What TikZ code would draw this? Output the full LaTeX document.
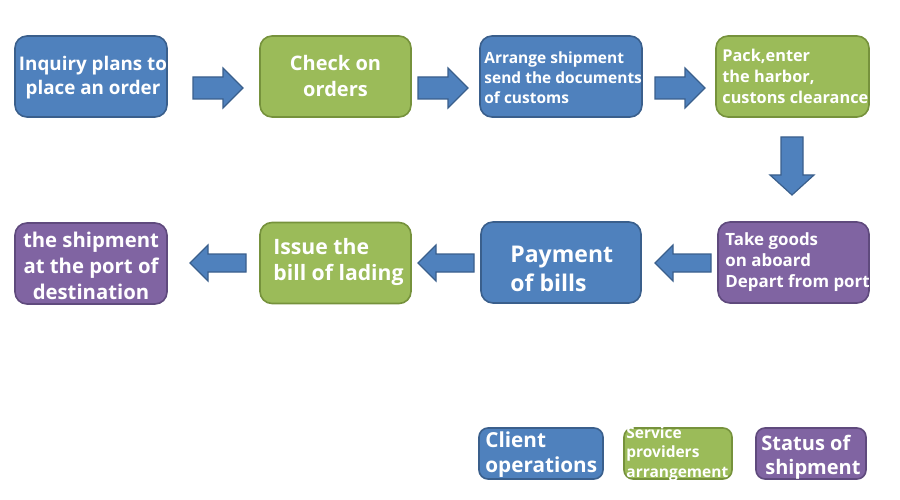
\documentclass[tikz,border=0pt]{standalone}
\usepackage{fontspec}
\setmainfont{Open Sans}
\definecolor{cblue}{HTML}{4F81BD}
\definecolor{cblueD}{HTML}{3A5F8C}
\definecolor{cgreen}{HTML}{9BBB59}
\definecolor{cgreenD}{HTML}{76923C}
\definecolor{cpurple}{HTML}{8064A2}
\definecolor{cpurpleD}{HTML}{5F4A7D}
\tikzset{
  box/.style={draw=#1D, fill=#1, line width=1.6pt, rounded corners=12pt,
    minimum width=152pt, minimum height=81pt, inner sep=0pt},
  txt/.style={text=white, inner sep=0pt, font=\bfseries},
  barrow/.style={draw=cblueD, fill=cblue, line width=1.2pt, line join=miter},
}
\newcommand{\fs}[2]{\fontsize{#1}{#2}\selectfont}
\begin{document}
\begin{tikzpicture}[x=1pt,y=-1pt]
\useasboundingbox (0,0) rectangle (900,500);
% row 1
\node[box=cblue] (b1) at (91,76.5) {};
\node[txt, align=center, font=\bfseries\fs{18.8}{24}] (t1) at ([xshift=2pt,yshift=-1pt]b1.center) {Inquiry plans to\\place an order};
\node[box=cgreen, minimum width=151pt] (b2) at (335.5,76.5) {};
\node[txt, align=center, font=\bfseries\fs{20}{26}] (t2) at (b2.center) {Check on\\orders};
\node[box=cblue, minimum width=162pt] (b3) at (561,76.5) {};
\node[txt, align=left, anchor=west, font=\bfseries\fs{15.5}{20}] (t3) at ([xshift=5pt,yshift=-1pt]b3.west) {Arrange shipment\\send the documents\\of customs};
\node[box=cgreen, minimum width=153pt] (b4) at (792.5,76.5) {};
\node[txt, align=left, anchor=west, font=\bfseries\fs{16.3}{21}] (t4) at ([xshift=7pt,yshift=0pt]b4.west) {Pack,enter\\the harbor,\\custons clearance};
% row 2
\node[box=cpurple] (b5) at (91,263.5) {};
\node[txt, align=center, font=\bfseries\fs{20.3}{26}] (t5) at ([yshift=-2pt]b5.center) {the shipment\\at the port of\\destination};
\node[box=cgreen, minimum width=151pt] (b6) at (335.5,263) {};
\node[txt, align=left, anchor=west, font=\bfseries\fs{21.2}{26}] (t6) at ([xshift=14pt,yshift=1pt]b6.west) {Issue the\\bill of lading};
\node[box=cblue, minimum width=160pt] (b7) at (561,262.5) {};
\node[txt, align=left, anchor=west, font=\bfseries\fs{23}{29}] (t7) at ([xshift=30pt,yshift=-6pt]b7.west) {Payment\\of bills};
\node[box=cpurple, minimum width=151pt] (b8) at (793.5,262.5) {};
\node[txt, align=left, anchor=west, font=\bfseries\fs{16.9}{21}] (t8) at ([xshift=8pt,yshift=0pt]b8.west) {Take goods\\on aboard\\Depart from port};
% legend
\node[box=cblue, minimum width=124pt, minimum height=51pt, rounded corners=9pt] (l1) at (541,453.5) {};
\node[txt, align=left, anchor=west, font=\bfseries\fs{20.7}{25}] (lt1) at ([xshift=7pt,yshift=-1pt]l1.west) {Client\\operations};
\node[box=cgreen, minimum width=108pt, minimum height=51pt, rounded corners=9pt] (l2) at (678,453.5) {};
\node[txt, align=left, anchor=west, font=\bfseries\fs{15.5}{19.5}] (lt2) at ([xshift=3pt]l2.west) {Service\\providers\\arrangement};
\node[box=cpurple, minimum width=110pt, minimum height=51pt, rounded corners=9pt] (l3) at (811,453.5) {};
\node[txt, align=left, anchor=west, font=\bfseries\fs{20}{24}] (lt3) at ([xshift=6pt,yshift=-4pt]l3.west) {Status of\\\hspace*{4pt}shipment};
% arrows row 1 (right)
\foreach \x/\n in {193/a1,418/a2,655/a3}{
  \draw[barrow] (\x,77) -- ++(30,0) -- ++(0,-9) -- ++(20,20) -- ++(-20,20) -- ++(0,-9) -- ++(-30,0) -- cycle;
}
% down arrow
\draw[barrow] (781,137) -- (803,137) -- (803,175) -- (814,175) -- (792,195) -- (770,175) -- (781,175) -- cycle;
% arrows row 2 (left)
\foreach \x in {190,418,655}{
  \draw[barrow] (\x,263) -- ++(18,-18) -- ++(0,9) -- ++(38,0) -- ++(0,18) -- ++(-38,0) -- ++(0,9) -- cycle;
}
\end{tikzpicture}
\end{document}
